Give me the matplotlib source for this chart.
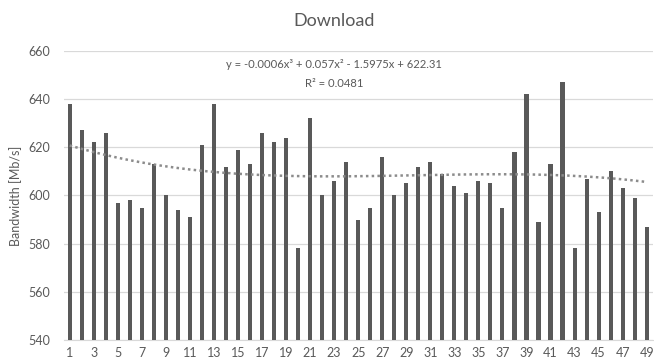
import numpy as np
import matplotlib
matplotlib.use("Agg")
from matplotlib import pyplot as plt

# download bandwidth per run [Mb/s]
runs = list(range(1, 50))
bandwidth = [638, 627, 622, 626, 597, 598, 595, 613, 600, 594,
             591, 621, 638, 612, 619, 613, 626, 622, 624, 578,
             632, 600, 606, 614, 590, 595, 616, 600, 605, 612,
             614, 609, 604, 601, 606, 605, 595, 618, 642, 589,
             613, 647, 578, 607, 593, 610, 603, 599, 587]
# cubic trendline coefficients (x^3, x^2, x, 1), as shown on chart
trend_coef = [-0.00064, 0.057, -1.5975, 622.31]
yticks = [540, 560, 580, 600, 620, 640, 660]
xtick_labels = [str(r) for r in runs if r % 2 == 1]

title = "Download"
ylabel = "Bandwidth [Mb/s]"
eq_line = "y = -0.0006x³ + 0.057x² - 1.5975x + 622.31"
r2_line = "R² = 0.0481"

txt = '#595959'
plt.rcParams['font.family'] = ['Lato', 'DejaVu Sans']

fig = plt.figure(figsize=(6.54, 3.64), dpi=100)
ax = fig.add_axes([0.0974, 0.066, 0.9006, 0.794])

x = np.array(runs)
y = np.array(bandwidth)
ax.bar(x, y - 540, bottom=540, width=0.34, color='#595959', zorder=3)

xs = np.linspace(1, 49, 200)
ax.plot(xs, np.polyval(trend_coef, xs), color='#8c8c8c', lw=1.8,
        linestyle=(0, (1, 1.3)), zorder=4)

ax.set_xlim(0.5, 49.5)
ax.set_ylim(540, 660)
ax.set_yticks(yticks)
ax.set_xticks([r for r in runs if r % 2 == 1])
ax.set_xticklabels(xtick_labels)
ax.grid(axis='y', color='#d9d9d9', lw=0.9, zorder=0)
for s in ['top', 'right', 'left']:
    ax.spines[s].set_visible(False)
ax.spines['bottom'].set_color('#d9d9d9')
ax.tick_params(axis='y', length=0, labelsize=9, colors=txt, pad=10)
ax.tick_params(axis='x', length=0, labelsize=9, colors=txt, pad=5)
ax.set_ylabel(ylabel, fontsize=9, color=txt, labelpad=4)

fig.text(0.511, 0.943, title, ha='center', va='center', fontsize=13, color=txt)
ax.text(0.459, 0.952, eq_line, transform=ax.transAxes, ha='center', va='center',
        fontsize=8.1, color=txt)
ax.text(0.459, 0.889, r2_line, transform=ax.transAxes, ha='center', va='center',
        fontsize=8.1, color=txt)

fig.savefig("out.png", dpi=100)
